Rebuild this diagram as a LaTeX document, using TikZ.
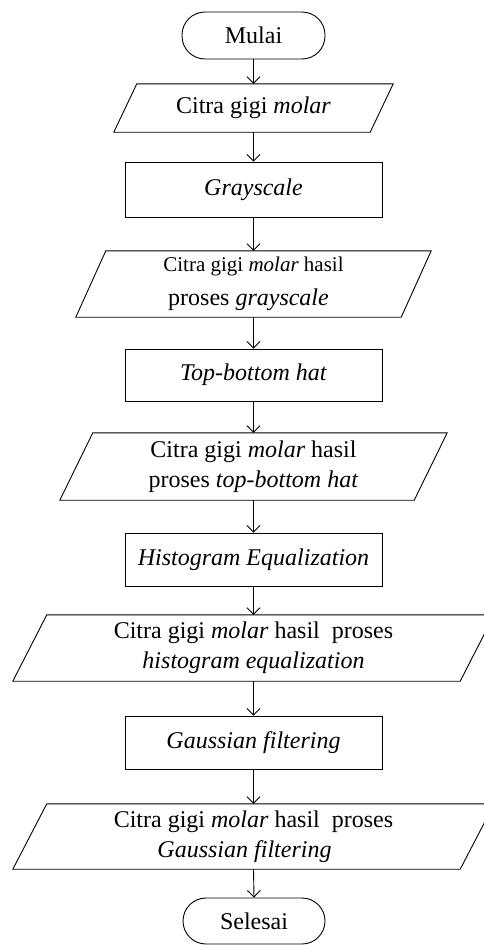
\documentclass[tikz,border=0pt]{standalone}
\usepackage{fontspec}
\setmainfont{Liberation Serif}
\usetikzlibrary{arrows.meta}
\newcommand{\drawpara}[2]{\draw[lineparts] ([xshift=#2pt]#1.north west) -- ([xshift=#2pt]#1.north east) -- ([xshift=-#2pt]#1.south east) -- ([xshift=-#2pt]#1.south west) -- cycle;}
\begin{document}
\begin{tikzpicture}[x=1pt,y=-1pt,
  lineparts/.style={line width=0.9pt, draw=black},
  txt/.style={font=\fontsize{24}{30}\selectfont, align=center, inner sep=0pt},
  terminal/.style={txt, lineparts, draw, rectangle, rounded corners=23pt, minimum width=143pt, minimum height=47pt},
  procbox/.style={txt, lineparts, draw, rectangle, minimum width=257pt, minimum height=53pt},
  databox/.style={txt, rectangle, minimum height=66pt},
  arr/.style={lineparts, -{Straight Barb[length=6.5pt,width=13pt]}}
]
\useasboundingbox (0,0) rectangle (483,945);
\fill[white] (0,0) rectangle (483,945);

\node[terminal] (start) at (253.5,35.5) {Mulai};
\node[databox, minimum width=256pt, minimum height=48pt] (d1) at (253.5,108) {Citra gigi \textit{molar}};
\node[procbox, minimum height=55pt] (p1) at (253.5,189.5) {\textit{Grayscale}};
\node[databox, minimum width=325pt] (d2) at (253.5,284) {{\fontsize{21}{30}\selectfont Citra gigi \textit{molar} hasil}\\[4pt]proses \textit{grayscale}\hspace*{10pt}};
\node[procbox, minimum height=52pt] (p2) at (253.5,375) {\textit{Top}-\textit{bottom hat}};
\node[databox, minimum width=354pt, minimum height=67pt] (d3) at (253.5,466.5) {Citra gigi \textit{molar} hasil\\proses \textit{top}-\textit{bottom hat}};
\node[procbox] (p3) at (253.5,559.5) {\textit{Histogram Equalization}};
\node[databox, minimum width=447pt] (d4) at (253.5,648) {Citra gigi \textit{molar} hasil\ \ proses\\\textit{histogram equalization}};
\node[procbox] (p4) at (253.5,742.5) {\textit{Gaussian filtering}};
\node[databox, minimum width=447pt, minimum height=65pt] (d5) at (253.5,836.5) {Citra gigi \textit{molar} hasil\ \ proses\\\textit{Gaussian filtering}\hspace*{18pt}};
\node[terminal, minimum width=142pt, minimum height=46pt] (stop) at (254,921) {Selesai};

\drawpara{d1}{11.5}
\drawpara{d2}{15}
\drawpara{d3}{16.5}
\drawpara{d4}{17}
\drawpara{d5}{17}

\draw[arr] (start.south) -- (d1.north);
\draw[arr] (d1.south) -- (p1.north);
\draw[arr] (p1.south) -- (d2.north);
\draw[arr] (d2.south) -- (p2.north);
\draw[arr] (p2.south) -- (d3.north);
\draw[arr] (d3.south) -- (p3.north);
\draw[arr] (p3.south) -- (d4.north);
\draw[arr] (d4.south) -- (p4.north);
\draw[arr] (p4.south) -- (d5.north);
\draw[arr] (d5.south) -- (stop.north);
\end{tikzpicture}
\end{document}
